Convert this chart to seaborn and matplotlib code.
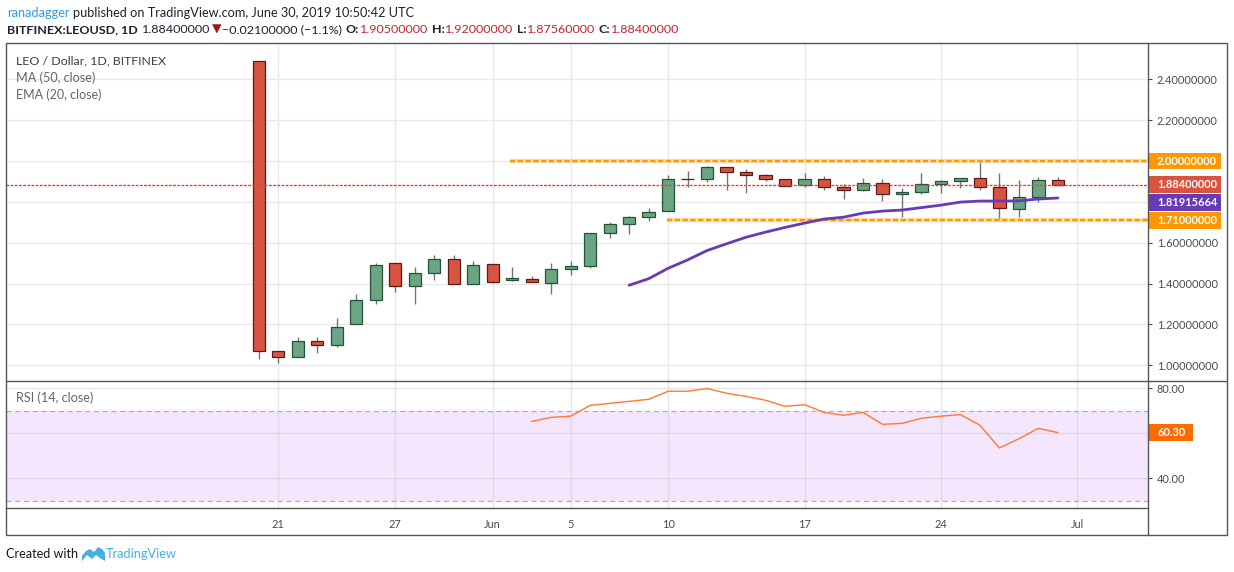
import numpy as np
import pandas as pd
import matplotlib
matplotlib.use("Agg")
import matplotlib.pyplot as plt
import matplotlib.transforms as mtransforms
from matplotlib.patches import Rectangle, Polygon
from matplotlib.lines import Line2D
import seaborn as sns

# ---------------- data ----------------
dates = ["2019-05-20", "2019-05-21", "2019-05-22", "2019-05-23", "2019-05-24", "2019-05-25",
         "2019-05-26", "2019-05-27", "2019-05-28", "2019-05-29", "2019-05-30", "2019-05-31",
         "2019-06-01", "2019-06-02", "2019-06-03", "2019-06-04", "2019-06-05", "2019-06-06",
         "2019-06-07", "2019-06-08", "2019-06-09", "2019-06-10", "2019-06-11", "2019-06-12",
         "2019-06-13", "2019-06-14", "2019-06-15", "2019-06-16", "2019-06-17", "2019-06-18",
         "2019-06-19", "2019-06-20", "2019-06-21", "2019-06-22", "2019-06-23", "2019-06-24",
         "2019-06-25", "2019-06-26", "2019-06-27", "2019-06-28", "2019-06-29", "2019-06-30"]
opens = [2.49, 1.07, 1.04, 1.12, 1.10, 1.20, 1.32, 1.50, 1.39, 1.45, 1.52, 1.40,
         1.495, 1.417, 1.422, 1.402, 1.471, 1.485, 1.647, 1.691, 1.725, 1.755, 1.912, 1.912,
         1.971, 1.946, 1.931, 1.912, 1.882, 1.912, 1.873, 1.856, 1.892, 1.838, 1.848, 1.887,
         1.902, 1.917, 1.873, 1.765, 1.824, 1.905]
highs = [2.49, 1.07, 1.14, 1.14, 1.23, 1.35, 1.50, 1.50, 1.48, 1.54, 1.54, 1.51,
         1.497, 1.482, 1.438, 1.501, 1.511, 1.647, 1.701, 1.732, 1.770, 1.933, 1.952, 1.977,
         1.971, 1.962, 1.938, 1.914, 1.943, 1.928, 1.887, 1.918, 1.913, 1.868, 1.943, 1.905,
         1.918, 2.000, 1.943, 1.907, 1.920, 1.920]
lows = [1.03, 1.01, 1.04, 1.06, 1.09, 1.20, 1.30, 1.36, 1.30, 1.42, 1.40, 1.40,
        1.405, 1.412, 1.407, 1.351, 1.444, 1.478, 1.621, 1.645, 1.704, 1.755, 1.871, 1.895,
        1.856, 1.841, 1.900, 1.876, 1.871, 1.856, 1.815, 1.855, 1.802, 1.724, 1.838, 1.841,
        1.866, 1.856, 1.710, 1.724, 1.799, 1.8756]
closes = [1.07, 1.04, 1.12, 1.10, 1.19, 1.32, 1.49, 1.39, 1.45, 1.52, 1.40, 1.49,
          1.407, 1.426, 1.407, 1.471, 1.485, 1.647, 1.691, 1.725, 1.750, 1.912, 1.911, 1.971,
          1.946, 1.931, 1.912, 1.877, 1.912, 1.873, 1.856, 1.892, 1.838, 1.848, 1.887, 1.902,
          1.917, 1.873, 1.770, 1.824, 1.905, 1.884]

ema_dates = dates[19:]          # EMA(20) starts 2019-06-08
ema20 = [1.392, 1.424, 1.475, 1.516, 1.562, 1.595, 1.627, 1.652, 1.675, 1.696, 1.716, 1.725,
         1.745, 1.755, 1.760, 1.772, 1.784, 1.799, 1.804, 1.804, 1.805, 1.814, 1.819]

rsi_dates = dates[14:]          # RSI(14) starts 2019-06-03
rsi14 = [65.3, 67.1, 67.6, 72.4, 73.3, 74.2, 75.1, 78.7, 78.7, 79.9, 77.8, 76.4, 74.7, 72.0,
         72.7, 69.3, 68.0, 69.3, 64.0, 64.4, 66.7, 67.6, 68.3, 63.6, 53.5, 57.6, 62.2, 60.3]

tick_dates = ["2019-05-21", "2019-05-27", "2019-06-01", "2019-06-05", "2019-06-10",
              "2019-06-17", "2019-06-24", "2019-07-01"]
tick_labels = ["21", "27", "Jun", "5", "10", "17", "24", "Jul"]
price_ticks = [1.0, 1.2, 1.4, 1.6, 1.8, 2.0, 2.2, 2.4]
rsi_ticks = [40, 60, 80]

resistance = 2.00
resistance_start = "2019-06-01 21:20"
support = 1.71
support_start = "2019-06-09 22:20"
last_close = 1.884
last_ema = 1.81915664
last_rsi = 60.30

# ---------------- style ----------------
sns.set_style("white")
FAM = ['Lato', 'DejaVu Sans']
plt.rcParams['font.family'] = FAM

W, H = 1234, 572
fig = plt.figure(figsize=(W / 100, H / 100), dpi=100)
fig.patch.set_facecolor("white")


def fx(px):
    return px / W


def fy(py):
    return 1 - py / H


L, R = 6.3, 1148.3
T1, B1, B2, B3, RR = 43.3, 381.3, 508.3, 535.3, 1227.3

axp = fig.add_axes([fx(L), fy(B1), fx(R) - fx(L), fy(T1) - fy(B1)])
axr = fig.add_axes([fx(L), fy(B2), fx(R) - fx(L), fy(B1) - fy(B2)], sharex=axp)

df = pd.DataFrame({"date": pd.to_datetime(dates), "open": opens, "high": highs,
                   "low": lows, "close": closes})
up = df["close"] >= df["open"]
face = np.where(up, "#6ba583", "#d75442")
edge = np.where(up, "#225437", "#5b1a13")

GRID = "#e9e9e9"
TXT = "#4a4a4a"
FRAME = "#555555"

# ---------------- price panel ----------------
pylim = (0.922, 2.576)
axp.set_ylim(*pylim)
t0 = pd.Timestamp("2019-05-20")
x_lo = t0 + pd.Timedelta(days=-12.96)
x_hi = t0 + pd.Timedelta(days=45.64)
axp.set_xlim(x_lo, x_hi)

axp.vlines(df["date"], df["low"], df["high"], color="#737375", lw=1.0, zorder=2)
body_bottom = np.minimum(df["open"], df["close"])
body_h = np.maximum(np.abs(df["close"] - df["open"]), 0.0015)
axp.bar(df["date"], body_h, bottom=body_bottom, width=0.63, color=face,
        edgecolor=edge, linewidth=0.9, zorder=3)

sns.lineplot(x=pd.to_datetime(ema_dates), y=ema20, ax=axp, color="#673ab7",
             linewidth=2.0, zorder=5)

for lvl, start in ((resistance, resistance_start), (support, support_start)):
    xs = pd.Timestamp(start)
    axp.hlines(lvl, xs, x_hi, color="#ffcc80", lw=3.2, alpha=0.6, zorder=4)
    axp.hlines(lvl, xs, x_hi, color="#ff9800", lw=1.7,
               linestyles=(0, (2.2, 1.1)), zorder=4)
axp.axhline(last_close, color="#e2432f", lw=1.0, ls=(0, (2, 1)), zorder=4)

axp.set_yticks(price_ticks)
axp.set_yticklabels(["" if v in (1.8, 2.0) else f"{v:.8f}" for v in price_ticks])
axp.yaxis.tick_right()
axp.tick_params(axis="y", length=3, width=0.8, color=TXT, pad=3.2, labelsize=7.9,
                labelcolor=TXT)
axp.tick_params(axis="x", length=0, labelbottom=False)
axp.grid(True, color=GRID, lw=1.0)
axp.set_axisbelow(True)
axp.set_xlabel("")
axp.set_ylabel("")
for s in axp.spines.values():
    s.set_visible(False)

AXW = R - L


def tag(ax, y, text, fc, w_px, h_px, ax_h_px, ylim, off_px=0.0, size=7.9):
    trans = mtransforms.blended_transform_factory(ax.transAxes, ax.transData)
    dpp = (ylim[1] - ylim[0]) / ax_h_px
    yc = y - off_px * dpp
    hd = h_px * dpp
    ax.add_patch(Rectangle((1.0, yc - hd / 2), w_px / AXW, hd, transform=trans,
                           clip_on=False, fc=fc, ec="none", zorder=20))
    ax.text(1.0 + 8.7 / AXW, yc, text, transform=trans, clip_on=False, color="white",
            fontsize=size, fontweight="bold", va="center", ha="left", zorder=21)


PH = B1 - T1
tag(axp, resistance, f"{resistance:.8f}", "#ff9800", 72.5, 16.5, PH, pylim)
tag(axp, last_close, f"{last_close:.8f}", "#d9533f", 72.5, 16.5, PH, pylim)
tag(axp, last_ema, f"{last_ema:.8f}", "#673ab7", 72.5, 16.5, PH, pylim, off_px=4.6)
tag(axp, support, f"{support:.8f}", "#ff9800", 72.5, 16.5, PH, pylim)

# ---------------- RSI panel ----------------
rylim = (26.7, 83.1)
axr.set_ylim(*rylim)
axr.axhspan(30, 70, color="#f3e6fd", zorder=0.3, lw=0)
axr.axhline(70, color="#b4abb8", lw=0.9, ls=(0, (4, 3)), zorder=1)
axr.axhline(30, color="#b4abb8", lw=0.9, ls=(0, (4, 3)), zorder=1)
sns.lineplot(x=pd.to_datetime(rsi_dates), y=rsi14, ax=axr, color="#ff7a2e",
             linewidth=1.0, zorder=5)
axr.set_yticks(rsi_ticks)
axr.set_yticklabels([f"{v:.2f}" if v != 60 else "" for v in rsi_ticks])
axr.yaxis.tick_right()
axr.tick_params(axis="y", length=3, width=0.8, color=TXT, pad=3.2, labelsize=7.9,
                labelcolor=TXT)
axr.set_xticks(pd.to_datetime(tick_dates))
axr.set_xticklabels(tick_labels)
axr.tick_params(axis="x", length=3, width=0.8, color=TXT, pad=4.5, labelsize=7.9,
                labelcolor=TXT)
axr.grid(True, color="#c8c8c8", alpha=0.45, lw=1.0)
axr.set_axisbelow(True)
axr.set_xlabel("")
axr.set_ylabel("")
for s in axr.spines.values():
    s.set_visible(False)
axp.set_xlim(x_lo, x_hi)
tag(axr, last_rsi, f"{last_rsi:.2f}", "#ff6a00", 44.4, 16.7, B2 - B1, rylim)

# ---------------- frame lines ----------------
fig.add_artist(Rectangle((fx(L), fy(B3)), fx(RR) - fx(L), fy(T1) - fy(B3),
                         transform=fig.transFigure, fill=False, ec=FRAME, lw=1.0))
for (x0, y0, x1, y1) in ((R, T1, R, B3), (L, B1, RR, B1), (L, B2, R, B2)):
    fig.add_artist(Line2D([fx(x0), fx(x1)], [fy(y0), fy(y1)], transform=fig.transFigure,
                          color=FRAME, lw=1.0))

# ---------------- texts ----------------
fig.canvas.draw()
renderer = fig.canvas.get_renderer()


def measure(pieces, size):
    ws = []
    for s, c, wgt, g in pieces:
        t = fig.text(0, 0, s, fontsize=size, fontweight=wgt)
        ws.append(t.get_window_extent(renderer).width)
        t.remove()
    return ws


def fit_line(x_px, y_px, pieces, target_w, base=10.0):
    ws = measure(pieces, base)
    total = sum(ws) + sum(p[3] for p in pieces) * base * 100 / 72
    size = base * target_w / total
    ws = measure(pieces, size)
    x = x_px
    for (s, c, wgt, g), w in zip(pieces, ws):
        fig.text(fx(x), fy(y_px), s, fontsize=size, fontweight=wgt, color=c,
                 va="center", ha="left")
        x += w + g * size * 100 / 72
    return size


DARK = "#1e222d"
RED = "#c0262d"
fit_line(7, 13, [("ranadagger", "#2e9be8", "normal", 0.25),
                 ("published on TradingView.com, June 30, 2019 10:50:42 UTC", DARK, "normal", 0)],
         406)
fit_line(7, 29.5, [("BITFINEX:LEOUSD, 1D", DARK, "bold", 0.35),
                   ("1.88400000", DARK, "normal", 0.08),
                   ("▼", "#a31515", "normal", 0.08),
                   ("\u22120.02100000 (\u22121.1%)", DARK, "normal", 0.3),
                   ("O:", DARK, "bold", 0.03), ("1.90500000", RED, "normal", 0.3),
                   ("H:", DARK, "bold", 0.03), ("1.92000000", RED, "normal", 0.3),
                   ("L:", DARK, "bold", 0.03), ("1.87560000", RED, "normal", 0.3),
                   ("C:", DARK, "bold", 0.03), ("1.88400000", RED, "normal", 0)],
         670)
fit_line(15.5, 61, [("LEO / Dollar, 1D, BITFINEX", "#3b3e48", "normal", 0)], 150)
fit_line(15.5, 78, [("MA (50, close)", "#62656e", "normal", 0)], 79.5)
fit_line(15.5, 95, [("EMA (20, close)", "#62656e", "normal", 0)], 86)
fit_line(15.5, 398, [("RSI (14, close)", "#62656e", "normal", 0)], 77)
fit_line(6.5, 554, [("Created with", "#131722", "normal", 0)], 72)
fit_line(106, 554, [("TradingView", "#45b0e5", "normal", 0)], 71)

# small TradingView-like logo
logo = [(82, 561), (82, 556), (86, 551), (90, 549), (94, 552), (98, 547), (102, 549),
        (105, 553), (105, 561), (100, 558), (96, 555), (92, 559), (87, 555)]
fig.add_artist(Polygon([(fx(a), fy(b)) for a, b in logo], closed=True,
                       transform=fig.transFigure, fc="#45b0e5", ec="none"))

fig.savefig("out.png", dpi=100)
